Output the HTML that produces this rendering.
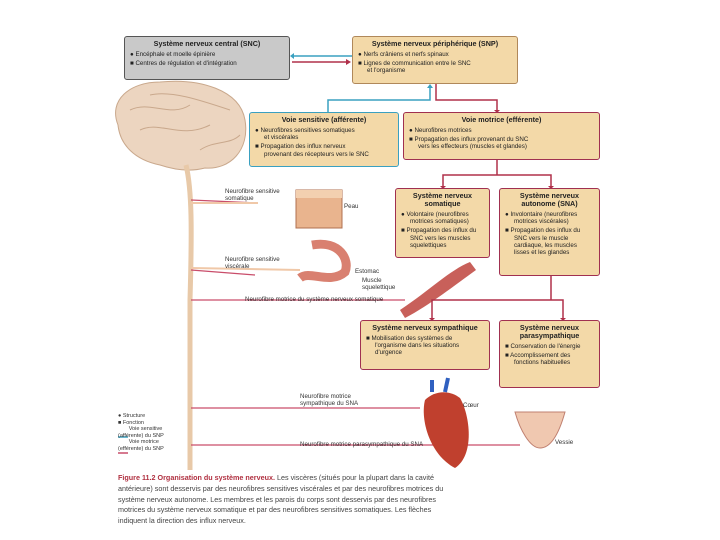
<!DOCTYPE html>
<html><head><meta charset="utf-8"><style>
body{margin:0;width:720px;height:540px;background:#fff;position:relative;overflow:hidden;font-family:"Liberation Sans",sans-serif;color:#222}
.b{position:absolute;background:#f3d9a8;border:1.5px solid #b0885a;border-radius:3px;font-size:6.2px;line-height:7.2px;padding:3px 5px;box-sizing:border-box}
.b h{display:block;font-weight:bold;font-size:7.2px;text-align:center;margin-bottom:3px;line-height:8px}
.b p{margin:0 0 2px 0;padding-left:9px;text-indent:-9px}
.t{position:absolute;font-size:6.2px;line-height:7px;color:#333}
</style></head><body>
<svg width="720" height="540" style="position:absolute;left:0;top:0">
<path d="M118,125 C108,100 130,82 160,82 C200,78 240,90 245,120 C250,150 230,170 205,168 C190,172 175,170 160,165 C135,160 120,145 118,125Z" fill="#ecd5c0" stroke="#c9a88c"/>
<path d="M130,110 C150,100 170,118 190,105 M140,130 C160,120 180,140 210,125 M150,95 C170,90 200,100 230,110 M200,150 C215,140 230,145 240,135" stroke="#c9a88c" fill="none"/>
<path d="M186,165 C192,190 192,230 190,300 L190,470" stroke="#e8c9a8" stroke-width="5" fill="none"/>
<path d="M191,200 L258,203 M191,270 L255,275 M191,300 L405,300 M191,408 L420,408 M191,445 L520,445" stroke="#c94d6a" stroke-width="1.3" fill="none"/>
<path d="M191,203 L258,203 M191,268 L300,270" stroke="#f0c8a8" stroke-width="2" fill="none"/>
<rect x="296" y="190" width="46" height="38" fill="#e9b48e" stroke="#b07050"/>
<rect x="296" y="190" width="46" height="8" fill="#f3d0b0"/>
<path d="M312,245 C340,240 350,260 345,272 C330,285 310,270 300,278" stroke="#d98070" stroke-width="9" fill="none"/>
<path d="M400,310 C430,290 450,270 470,262 L476,270 C455,285 430,305 405,318Z" fill="#c8605a"/>
<path d="M425,400 C420,420 430,455 455,468 C475,455 470,415 460,398 C450,390 435,390 425,400Z" fill="#c0402e"/>
<path d="M432,392 L432,380 M445,392 L448,378" stroke="#3060c0" stroke-width="4"/>
<path d="M515,412 C520,430 530,448 540,448 C552,448 560,430 565,412 Z" fill="#f0c8b0" stroke="#c08070"/>
<g fill="none" stroke-width="1.5">
<path d="M352,56 L294,56" stroke="#3aa0c0"/><path d="M292,62 L346,62" stroke="#b0304a"/>
<path d="M328,112 L328,100 L430,100 L430,88" stroke="#3aa0c0"/>
<path d="M436,84 L436,100 L497,100 L497,110" stroke="#b0304a"/>
<path d="M497,160 L497,175 L443,175 L443,186 M497,175 L551,175 L551,186" stroke="#b0304a"/>
<path d="M551,276 L551,300 L432,300 L432,318 M551,300 L563,300 L563,318" stroke="#b0304a"/>
</g>
<g fill="#b0304a"><path d="M351,62 l-5,-3 v6z"/><path d="M494,110 h6 l-3,3z"/><path d="M440,186 h6 l-3,3z"/><path d="M548,186 h6 l-3,3z"/><path d="M429,318 h6 l-3,3z"/><path d="M560,318 h6 l-3,3z"/></g>
<g fill="#3aa0c0"><path d="M294,53 v6 l-4,-3z"/><path d="M427,88 h6 l-3,-4z"/></g>
<path d="M118,437 h10" stroke="#3aa0c0" stroke-width="1.5"/><path d="M118,453 h10" stroke="#c94d6a" stroke-width="1.5"/>
</svg>
<div class="b" style="left:124px;top:36px;width:166px;height:44px;background:#c9c9c9;border-color:#555"><h>Système nerveux central (SNC)</h><p>● Encéphale et moelle épinière</p><p>■ Centres de régulation et d'intégration</p></div>
<div class="b" style="left:352px;top:36px;width:166px;height:48px"><h>Système nerveux périphérique (SNP)</h><p>● Nerfs crâniens et nerfs spinaux</p><p>■ Lignes de communication entre le SNC<br>et l'organisme</p></div>
<div class="b" style="left:249px;top:112px;width:150px;height:55px;border-color:#3aa0c0"><h>Voie sensitive (afférente)</h><p>● Neurofibres sensitives somatiques<br>et viscérales</p><p>■ Propagation des influx nerveux<br>provenant des récepteurs vers le SNC</p></div>
<div class="b" style="left:403px;top:112px;width:197px;height:48px;border-color:#a03050"><h>Voie motrice (efférente)</h><p>● Neurofibres motrices</p><p>■ Propagation des influx provenant du SNC<br>vers les effecteurs (muscles et glandes)</p></div>
<div class="b" style="left:395px;top:188px;width:95px;height:70px;border-color:#a03050"><h>Système nerveux somatique</h><p>● Volontaire (neurofibres motrices somatiques)</p><p>■ Propagation des influx du SNC vers les muscles squelettiques</p></div>
<div class="b" style="left:499px;top:188px;width:101px;height:88px;border-color:#a03050"><h>Système nerveux autonome (SNA)</h><p>● Involontaire (neurofibres motrices viscérales)</p><p>■ Propagation des influx du SNC vers le muscle cardiaque, les muscles lisses et les glandes</p></div>
<div class="b" style="left:360px;top:320px;width:130px;height:50px;border-color:#a03050"><h>Système nerveux sympathique</h><p>■ Mobilisation des systèmes de l'organisme dans les situations d'urgence</p></div>
<div class="b" style="left:499px;top:320px;width:101px;height:68px;border-color:#a03050"><h>Système nerveux parasympathique</h><p>■ Conservation de l'énergie</p><p>■ Accomplissement des fonctions habituelles</p></div>
<div class="t" style="left:225px;top:188px">Neurofibre sensitive<br>somatique</div>
<div class="t" style="left:344px;top:203px">Peau</div>
<div class="t" style="left:225px;top:256px">Neurofibre sensitive<br>viscérale</div>
<div class="t" style="left:355px;top:268px">Estomac</div>
<div class="t" style="left:362px;top:277px">Muscle<br>squelettique</div>
<div class="t" style="left:245px;top:296px">Neurofibre motrice du système nerveux somatique</div>
<div class="t" style="left:300px;top:393px">Neurofibre motrice<br>sympathique du SNA</div>
<div class="t" style="left:463px;top:402px">Cœur</div>
<div class="t" style="left:300px;top:441px">Neurofibre motrice parasympathique du SNA</div>
<div class="t" style="left:555px;top:439px">Vessie</div>
<div class="t" style="left:118px;top:413px;font-size:5.5px;line-height:6.5px">● Structure<br>■ Fonction<br>&nbsp;&nbsp;&nbsp;&nbsp;&nbsp;&nbsp;&nbsp;Voie sensitive<br>(afférente) du SNP<br>&nbsp;&nbsp;&nbsp;&nbsp;&nbsp;&nbsp;&nbsp;Voie motrice<br>(efférente) du SNP</div>
<div class="t" style="left:118px;top:473px;width:330px;font-size:7.2px;line-height:10.8px;color:#444"><b style="color:#b03040">Figure 11.2 Organisation du système nerveux.</b> Les viscères (situés pour la plupart dans la cavité antérieure) sont desservis par des neurofibres sensitives viscérales et par des neurofibres motrices du système nerveux autonome. Les membres et les parois du corps sont desservis par des neurofibres motrices du système nerveux somatique et par des neurofibres sensitives somatiques. Les flèches indiquent la direction des influx nerveux.</div>
</body></html>
